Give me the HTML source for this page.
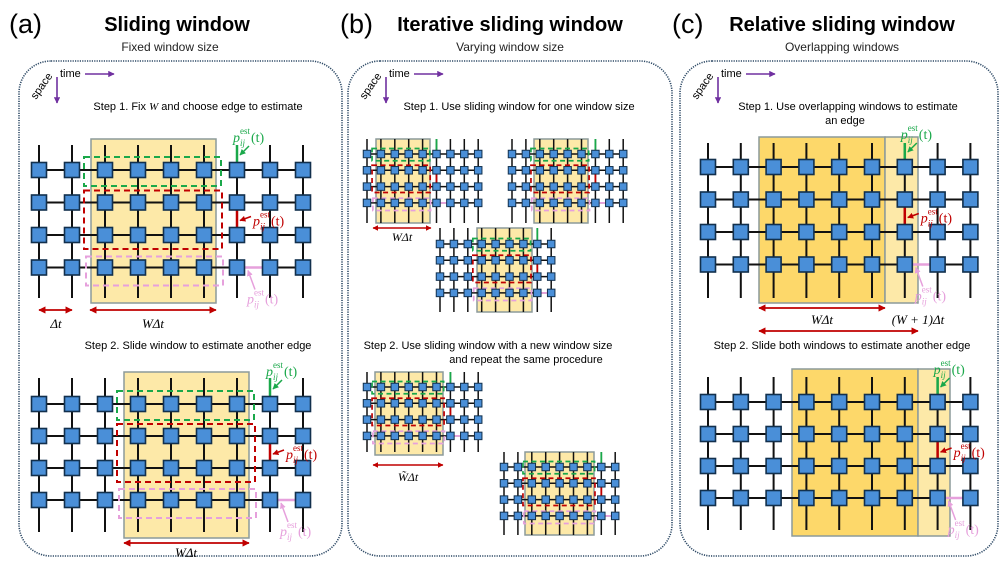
<!DOCTYPE html>
<html><head><meta charset="utf-8"><style>
html,body{margin:0;padding:0;background:#fff;}
svg{display:block;font-family:"Liberation Sans",sans-serif;}
.m{font-family:"Liberation Serif",serif;font-style:italic;}
</style></head><body>
<svg id="s" width="1006" height="566" viewBox="0 0 1006 566" xmlns="http://www.w3.org/2000/svg">
<defs>
<marker id="ar" viewBox="0 0 10 10" refX="9" refY="5" markerWidth="4" markerHeight="4" orient="auto-start-reverse"><path d="M0,0L10,5L0,10z" fill="#c00000"/></marker>
<marker id="ap" viewBox="0 0 10 10" refX="9" refY="5" markerWidth="4" markerHeight="4" orient="auto"><path d="M0,0L10,5L0,10z" fill="#7030a0"/></marker>
<marker id="ag" viewBox="0 0 10 10" refX="9" refY="5" markerWidth="4" markerHeight="4" orient="auto"><path d="M0,0L10,5L0,10z" fill="#1aa84a"/></marker>
<marker id="arr" viewBox="0 0 10 10" refX="9" refY="5" markerWidth="4" markerHeight="4" orient="auto"><path d="M0,0L10,5L0,10z" fill="#c00000"/></marker>
<marker id="ak" viewBox="0 0 10 10" refX="9" refY="5" markerWidth="4" markerHeight="4" orient="auto"><path d="M0,0L10,5L0,10z" fill="#e6a0dc"/></marker>
</defs>
<text x="9" y="33" font-size="27">(a)</text>
<text x="177" y="31" font-size="20" font-weight="bold" text-anchor="middle">Sliding window</text>
<text x="170" y="51" font-size="12" text-anchor="middle" fill="#222">Fixed window size</text>
<text x="340" y="33" font-size="27">(b)</text>
<text x="510" y="31" font-size="20" font-weight="bold" text-anchor="middle">Iterative sliding window</text>
<text x="510" y="51" font-size="12" text-anchor="middle" fill="#222">Varying window size</text>
<text x="672" y="33" font-size="27">(c)</text>
<text x="842" y="31" font-size="20" font-weight="bold" text-anchor="middle">Relative sliding window</text>
<text x="842" y="51" font-size="12" text-anchor="middle" fill="#222">Overlapping windows</text>
<rect x="19" y="61" width="323" height="495" rx="32" fill="none" stroke="#2e4a66" stroke-width="1.6" stroke-dasharray="1.2 1.2"/>
<rect x="348" y="61" width="324" height="495" rx="32" fill="none" stroke="#2e4a66" stroke-width="1.6" stroke-dasharray="1.2 1.2"/>
<rect x="680" y="61" width="318" height="495" rx="32" fill="none" stroke="#2e4a66" stroke-width="1.6" stroke-dasharray="1.2 1.2"/>
<g id="g"></g>
<text x="198" y="110" font-size="11" text-anchor="middle">Step 1. Fix <tspan class="m">W</tspan> and choose edge to estimate</text>
<text x="198" y="349" font-size="11" text-anchor="middle">Step 2. Slide window to estimate another edge</text>
<text x="519" y="110" font-size="11" text-anchor="middle">Step 1. Use sliding window for one window size</text>
<text x="488" y="349" font-size="11" text-anchor="middle">Step 2. Use sliding window with a new window size</text>
<text x="526" y="363" font-size="11" text-anchor="middle">and repeat the same procedure</text>
<text x="848" y="110" font-size="11" text-anchor="middle">Step 1. Use overlapping windows to estimate</text>
<text x="845" y="124" font-size="11" text-anchor="middle">an edge</text>
<text x="842" y="349" font-size="11" text-anchor="middle">Step 2. Slide both windows to estimate another edge</text>
<text x="56" y="328" font-size="13" class="m" text-anchor="middle">Δt</text>
<text x="153" y="328" font-size="13" class="m" text-anchor="middle">WΔt</text>
<text x="186" y="557" font-size="13" class="m" text-anchor="middle">WΔt</text>
<text x="402" y="241" font-size="12" class="m" text-anchor="middle">WΔt</text>
<text x="408" y="481" font-size="12" class="m" text-anchor="middle">W̃Δt</text>
<text x="822" y="324" font-size="13" class="m" text-anchor="middle">WΔt</text>
<text x="918" y="324" font-size="13" class="m" text-anchor="middle">(W + 1)Δt</text>
</svg>
<script>
var G=document.getElementById('g'),h='';
function add(s){h+=s;}
function L(x,y,col){return '<text y="'+y+'" font-size="14" fill="'+col+'" font-family="Liberation Serif,serif"><tspan x="'+x+'" font-style="italic">p</tspan><tspan x="'+(x+7)+'" font-size="9" font-style="italic" dy="4">ij</tspan><tspan x="'+(x+7)+'" font-size="9" dy="-12">est</tspan><tspan x="'+(x+18)+'" dy="8">(t)</tspan></text>';}
function grid(o){
 var k=o.dx/33,n=9,xs=[],ys=[],small=o.s<10;
 for(var i=0;i<n;i++)xs.push(o.x0+i*o.dx);
 for(var j=0;j<4;j++)ys.push(o.y0+j*o.dy);
 if(o.yel)add('<rect x="'+o.yel[0]+'" y="'+o.yel[1]+'" width="'+o.yel[2]+'" height="'+o.yel[3]+'" fill="'+(o.yc||'#fde9a8')+'" stroke="#8c9a9a" stroke-width="1.5"/>');
 if(o.yel2)add('<rect x="'+o.yel2[0]+'" y="'+o.yel2[1]+'" width="'+o.yel2[2]+'" height="'+o.yel2[3]+'" fill="#fde9a8" stroke="#8c9a9a" stroke-width="1.5"/>');
 var lw=o.lw;
 xs.forEach(function(x){add('<line x1="'+x+'" y1="'+o.top+'" x2="'+x+'" y2="'+o.bot+'" stroke="#111" stroke-width="'+lw+'"/>');});
 ys.forEach(function(y){add('<line x1="'+xs[0]+'" y1="'+y+'" x2="'+xs[n-1]+'" y2="'+y+'" stroke="#111" stroke-width="'+lw+'"/>');});
 var e=xs[o.edge],c1=xs[o.c1],s=o.s,hs=s/2;
 if(o.dash){
  var dw=small?1.7:2,da=small?'5 3.5':'6 4';
  add('<rect x="'+(c1-21*k)+'" y="'+(ys[0]-13*k)+'" width="'+(e-16*k-(c1-21*k))+'" height="'+(29*k)+'" fill="none" stroke="#1aa84a" stroke-width="'+dw+'" stroke-dasharray="'+da+'"/>');
  add('<rect x="'+(c1-21*k)+'" y="'+(ys[1]-12*k)+'" width="'+(e-15*k-(c1-21*k))+'" height="'+(ys[2]-ys[1]+26*k)+'" fill="none" stroke="#c00000" stroke-width="'+dw+'" stroke-dasharray="'+da+'"/>');
  add('<rect x="'+(c1-19*k)+'" y="'+(ys[3]-11*k)+'" width="'+(e-14*k-(c1-19*k))+'" height="'+(29*k)+'" fill="none" stroke="#e6a0dc" stroke-width="'+dw+'" stroke-dasharray="'+da+'"/>');
 }
 var ew=small?1.8:2.5;
 add('<line x1="'+e+'" y1="'+o.top+'" x2="'+e+'" y2="'+(ys[0]-hs)+'" stroke="#1aa84a" stroke-width="'+ew+'"/>');
 add('<line x1="'+e+'" y1="'+(ys[1]+hs)+'" x2="'+e+'" y2="'+(ys[2]-hs)+'" stroke="#c00000" stroke-width="'+ew+'"/>');
 add('<line x1="'+(e+hs)+'" y1="'+ys[3]+'" x2="'+(xs[o.edge+1]-hs)+'" y2="'+ys[3]+'" stroke="#e6a0dc" stroke-width="'+ew+'"/>');
 xs.forEach(function(x){ys.forEach(function(y){add('<rect x="'+(x-hs)+'" y="'+(y-hs)+'" width="'+s+'" height="'+s+'" fill="#4a8fd8" stroke="#12304d" stroke-width="'+(small?1:1.6)+'"/>');});});
 if(o.lab){
  add(L(e-4,ys[0]-28,'#1aa84a'));
  add('<line x1="'+(e+12)+'" y1="'+(ys[0]-24)+'" x2="'+(e+3)+'" y2="'+(ys[0]-15)+'" stroke="#1aa84a" stroke-width="1.5" marker-end="url(#ag)"/>');
  add(L(e+16,ys[1]+23,'#c00000'));
  add('<line x1="'+(e+14)+'" y1="'+(ys[1]+14)+'" x2="'+(e+3)+'" y2="'+(ys[1]+18)+'" stroke="#c00000" stroke-width="1.5" marker-end="url(#arr)"/>');
  add(L(e+10,ys[3]+36,'#e6a0dc'));
  add('<line x1="'+(e+18)+'" y1="'+(ys[3]+22)+'" x2="'+(e+11)+'" y2="'+(ys[3]+3)+'" stroke="#e6a0dc" stroke-width="1.5" marker-end="url(#ak)"/>');
 }
}
function arrow(x1,x2,y,w){add('<line x1="'+x1+'" y1="'+y+'" x2="'+x2+'" y2="'+y+'" stroke="#c00000" stroke-width="'+(w||1.8)+'" marker-start="url(#ar)" marker-end="url(#ar)"/>');}
[19,348,680].forEach(function(x){
 add('<text x="'+(x+41)+'" y="77" font-size="11">time</text>');
 add('<line x1="'+(x+66)+'" y1="74" x2="'+(x+95)+'" y2="74" stroke="#7030a0" stroke-width="1.6" marker-end="url(#ap)"/>');
 add('<line x1="'+(x+38)+'" y1="77" x2="'+(x+38)+'" y2="103" stroke="#7030a0" stroke-width="1.6" marker-end="url(#ap)"/>');
 add('<text x="0" y="0" font-size="11" transform="translate('+(x+17)+',100) rotate(-55)">space</text>');
});
grid({x0:39,dx:33,y0:170,dy:32.5,s:15,top:145,bot:298,lw:2,yel:[91,139,125,164],c1:2,edge:6,dash:1,lab:1});
arrow(39,72,310);arrow(90,216,310);
grid({x0:39,dx:33,y0:404,dy:32,s:15,top:378,bot:532,lw:2,yel:[124,372,125,166],c1:3,edge:7,dash:1,lab:1});
arrow(124,249,543);
var dxb=13.9;
grid({x0:367,dx:dxb,y0:154,dy:16.3,s:7.5,top:139,bot:223,lw:1.5,yel:[376,139,54,84],c1:1,edge:5,dash:1});
grid({x0:512,dx:dxb,y0:154,dy:16.3,s:7.5,top:139,bot:223,lw:1.5,yel:[534,139,54,84],c1:2,edge:6,dash:1});
grid({x0:440,dx:dxb,y0:244,dy:16.3,s:7.5,top:228,bot:312,lw:1.5,yel:[477,228,55,84],c1:3,edge:7,dash:1});
arrow(373,431,228,1.4);
grid({x0:367,dx:dxb,y0:387,dy:16.3,s:7.5,top:372,bot:452,lw:1.5,yel:[375,372,68,83],c1:1,edge:6,dash:1});
grid({x0:504,dx:dxb,y0:467,dy:16.3,s:7.5,top:452,bot:535,lw:1.5,yel:[525,452,69,83],c1:2,edge:7,dash:1});
arrow(373,443,465,1.4);
grid({x0:708,dx:32.8,y0:167,dy:32.5,s:15,top:143,bot:298,lw:2,yel:[759,137,126,166],yc:'#fdd86a',yel2:[885,137,33,166],c1:2,edge:6,lab:1});
arrow(759,885,308);arrow(759,918,331);
grid({x0:708,dx:32.8,y0:402,dy:32,s:15,top:377,bot:530,lw:2,yel:[792,369,126,167],yc:'#fdd86a',yel2:[918,369,32,167],c1:3,edge:7,lab:1});
G.innerHTML=h;
</script>
</body></html>
